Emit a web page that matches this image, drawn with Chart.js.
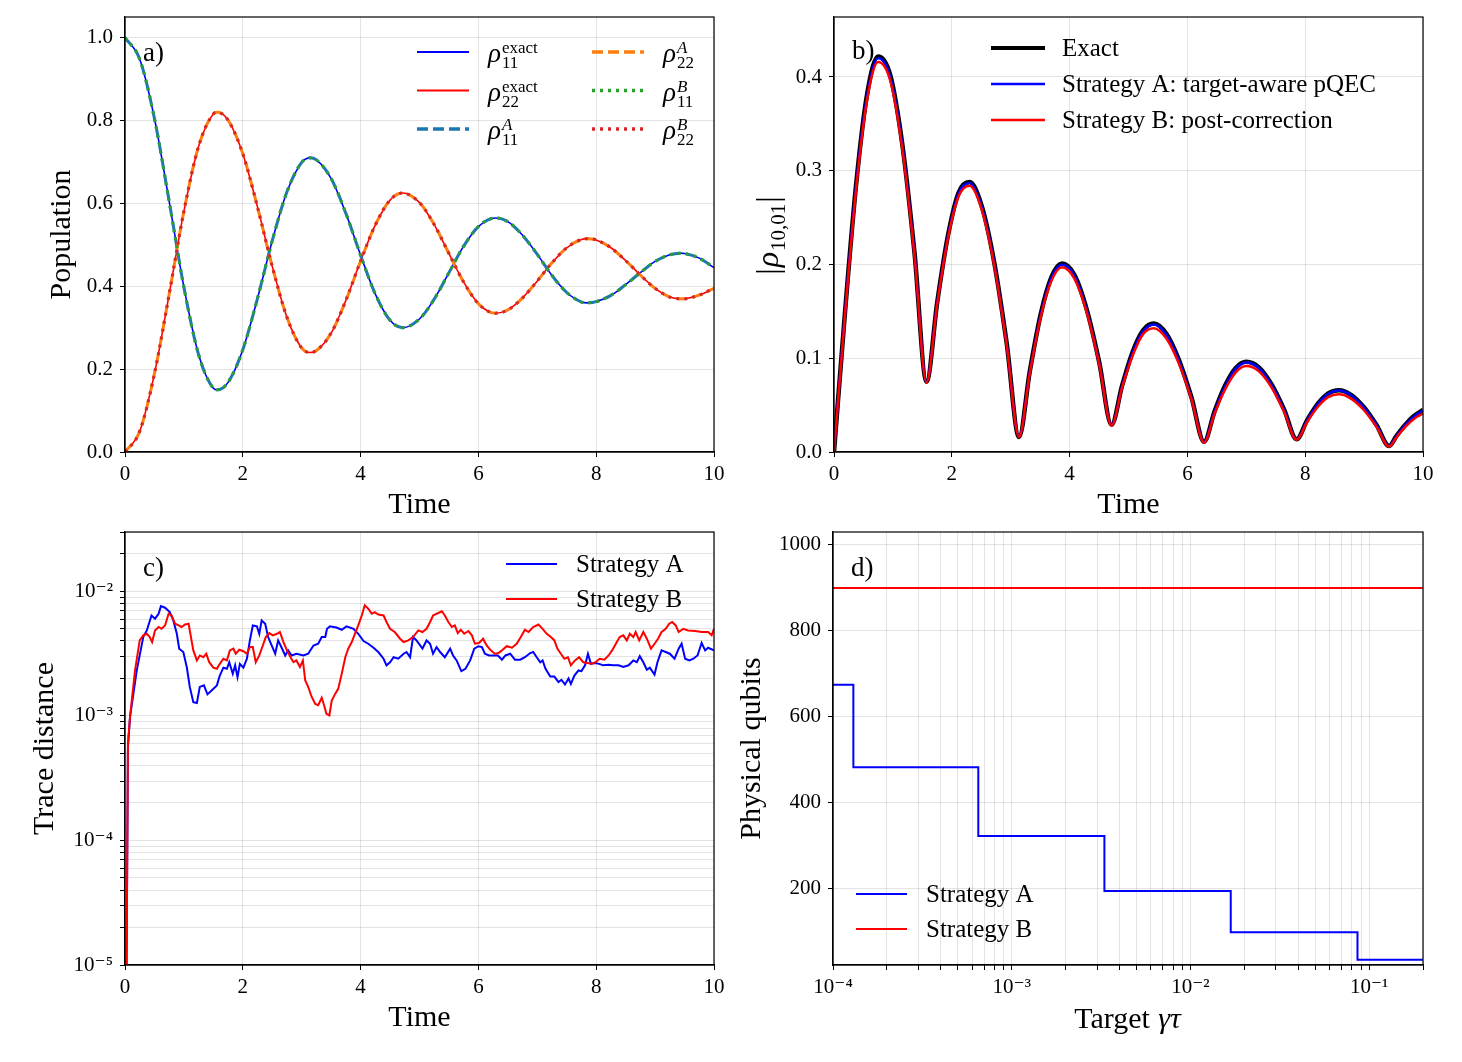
<!DOCTYPE html>
<html>
<head>
<meta charset="utf-8">
<script src="https://cdn.jsdelivr.net/npm/chart.js@4.4.0/dist/chart.umd.min.js"></script>
<style>
  html, body { margin: 0; padding: 0; background: #fff; }
  #wrap { position: relative; width: 1462px; height: 1062px; }
  canvas { position: absolute; }
</style>
</head>
<body>
<div id="wrap">
  <canvas id="panelA" width="730" height="530" style="left:0;top:0"></canvas>
  <canvas id="panelB" width="730" height="530" style="left:730px;top:0"></canvas>
  <canvas id="panelC" width="730" height="532" style="left:0;top:530px"></canvas>
  <canvas id="panelD" width="730" height="532" style="left:730px;top:530px"></canvas>
</div>
<script>
// --- a) populations (read off the figure) ---
const popTime = [0, 0.25, 0.5, 0.75, 1.0, 1.25, 1.5, 1.571, 1.75, 2.0, 2.25, 2.5, 2.75, 3.0, 3.142, 3.25, 3.5, 3.75,
  4.0, 4.25, 4.5, 4.712, 5.0, 5.25, 5.5, 5.75, 6.0, 6.283, 6.5, 6.75, 7.0, 7.25, 7.5, 7.75, 7.854, 8.0, 8.25, 8.5,
  8.75, 9.0, 9.25, 9.425, 9.5, 9.75, 10.0];
const rho11Exact = [1.0, 0.948, 0.805, 0.605, 0.398, 0.235, 0.154, 0.150, 0.168, 0.247, 0.371, 0.510, 0.628, 0.699,
  0.710, 0.705, 0.660, 0.576, 0.475, 0.381, 0.318, 0.300, 0.321, 0.369, 0.433, 0.497, 0.544, 0.565, 0.556, 0.523,
  0.477, 0.426, 0.385, 0.362, 0.360, 0.363, 0.378, 0.404, 0.433, 0.460, 0.476, 0.480, 0.479, 0.468, 0.445];
const rho22Exact = [0.0, 0.050, 0.189, 0.381, 0.581, 0.738, 0.816, 0.820, 0.801, 0.720, 0.591, 0.448, 0.325, 0.251,
  0.240, 0.245, 0.287, 0.366, 0.461, 0.548, 0.608, 0.625, 0.602, 0.549, 0.479, 0.410, 0.358, 0.335, 0.343, 0.372,
  0.413, 0.457, 0.493, 0.513, 0.515, 0.512, 0.493, 0.462, 0.427, 0.395, 0.374, 0.370, 0.370, 0.379, 0.395];
// both strategies sit on top of the exact curves at this scale
const rho11A = rho11Exact, rho22A = rho22Exact, rho11B = rho11Exact, rho22B = rho22Exact;

// --- b) coherence |rho_10,01| ---
const coherTime = [0, 0.188, 0.375, 0.563, 0.75, 0.955, 1.16, 1.366, 1.571, 1.753, 1.935, 2.118, 2.30, 2.51, 2.721,
  2.932, 3.142, 3.324, 3.506, 3.688, 3.87, 4.081, 4.291, 4.502, 4.712, 4.892, 5.071, 5.251, 5.43, 5.643, 5.857, 6.07,
  6.283, 6.462, 6.642, 6.821, 7.0, 7.214, 7.427, 7.641, 7.854, 8.033, 8.212, 8.391, 8.57, 8.784, 8.998, 9.211, 9.425,
  9.55, 9.7, 9.85, 10.0];
const coherExact = [0, 0.150, 0.285, 0.382, 0.422, 0.402, 0.328, 0.213, 0.075, 0.160, 0.231, 0.277, 0.288, 0.262,
  0.202, 0.116, 0.016, 0.086, 0.146, 0.186, 0.201, 0.189, 0.152, 0.096, 0.029, 0.071, 0.107, 0.130, 0.137, 0.126,
  0.098, 0.058, 0.011, 0.0435, 0.0711, 0.0897, 0.0963, 0.0903, 0.0723, 0.0454, 0.0135, 0.034, 0.0513, 0.0626, 0.066,
  0.0608, 0.0477, 0.0287, 0.0064, 0.0172, 0.0291, 0.0386, 0.0448];
const coherA = [0, 0.149, 0.284, 0.380, 0.420, 0.400, 0.327, 0.212, 0.075, 0.159, 0.230, 0.276, 0.287, 0.261,
  0.201, 0.115, 0.016, 0.085, 0.145, 0.185, 0.200, 0.188, 0.151, 0.095, 0.029, 0.070, 0.106, 0.129, 0.136, 0.125,
  0.097, 0.057, 0.011, 0.043, 0.070, 0.089, 0.0955, 0.0895, 0.0717, 0.045, 0.0135, 0.0337, 0.0509, 0.0621, 0.0655,
  0.0603, 0.0473, 0.0285, 0.0064, 0.0170, 0.0288, 0.0382, 0.0444];
const coherB = [0, 0.147, 0.280, 0.376, 0.416, 0.396, 0.323, 0.210, 0.074, 0.158, 0.228, 0.273, 0.284, 0.258,
  0.199, 0.114, 0.016, 0.084, 0.143, 0.182, 0.197, 0.185, 0.149, 0.094, 0.028, 0.069, 0.103, 0.126, 0.132, 0.121,
  0.094, 0.056, 0.010, 0.041, 0.067, 0.085, 0.0917, 0.086, 0.069, 0.043, 0.013, 0.032, 0.048, 0.0585, 0.0615,
  0.0567, 0.0445, 0.0268, 0.0058, 0.0158, 0.0268, 0.0355, 0.041];

// --- c) trace distance, values in units of 1e-3 ---
const traceTimeA = [0, 0.05, 0.085, 0.2, 0.31, 0.37, 0.45, 0.51, 0.57, 0.61, 0.68, 0.76, 0.82, 0.88, 0.92, 0.99,
  1.05, 1.10, 1.16, 1.22, 1.27, 1.34, 1.40, 1.47, 1.56, 1.61, 1.67, 1.73, 1.77, 1.83, 1.87, 1.91, 1.95, 2.01, 2.07,
  2.12, 2.17, 2.24, 2.28, 2.32, 2.38, 2.43, 2.49, 2.55, 2.60, 2.66, 2.72, 2.77, 2.83, 2.91, 3.03, 3.11, 3.20, 3.28,
  3.34, 3.40, 3.43, 3.48, 3.54, 3.59, 3.68, 3.76, 3.88, 3.96, 4.05, 4.13, 4.22, 4.30, 4.39, 4.44, 4.50, 4.56, 4.64,
  4.73, 4.78, 4.84, 4.89, 4.95, 5.05, 5.12, 5.18, 5.23, 5.29, 5.35, 5.43, 5.52, 5.57, 5.63, 5.71, 5.78, 5.86, 5.93,
  6.00, 6.06, 6.11, 6.18, 6.25, 6.33, 6.40, 6.46, 6.54, 6.62, 6.71, 6.79, 6.88, 6.93, 6.99, 7.05, 7.09, 7.14, 7.22,
  7.29, 7.36, 7.41, 7.47, 7.53, 7.57, 7.63, 7.70, 7.75, 7.81, 7.86, 7.91, 7.98, 8.05, 8.12, 8.21, 8.29, 8.38, 8.46,
  8.55, 8.63, 8.69, 8.74, 8.80, 8.86, 8.91, 8.99, 9.04, 9.11, 9.18, 9.25, 9.33, 9.40, 9.45, 9.51, 9.58, 9.65, 9.72,
  9.79, 9.85, 9.90, 10.0];
const traceA = [0.0001, 0.56, 0.98, 2.32, 4.30, 4.86, 6.41, 6.04, 6.62, 7.62, 7.40, 6.82, 5.85, 4.57, 3.47, 3.26,
  2.45, 1.71, 1.29, 1.27, 1.71, 1.76, 1.49, 1.60, 1.76, 2.11, 2.44, 2.39, 2.70, 2.18, 2.55, 2.05, 2.62, 2.44, 2.88,
  4.04, 5.33, 5.24, 4.57, 5.85, 5.50, 4.30, 3.68, 3.16, 4.04, 3.53, 3.06, 3.36, 3.06, 3.16, 3.06, 3.16, 3.68, 3.80,
  4.30, 4.30, 5.01, 5.24, 5.18, 5.13, 4.92, 5.24, 5.01, 4.57, 3.99, 3.80, 3.53, 3.26, 2.88, 2.55, 2.70, 2.96, 2.88,
  3.16, 3.26, 2.96, 4.30, 4.04, 3.47, 4.04, 3.80, 3.16, 3.57, 3.26, 2.96, 3.47, 3.06, 2.79, 2.29, 2.39, 2.79, 3.47,
  3.63, 3.57, 3.16, 3.06, 3.06, 3.06, 2.83, 3.06, 3.16, 2.83, 2.83, 2.96, 3.20, 3.26, 2.96, 2.70, 2.79, 2.39, 2.07,
  2.07, 1.87, 1.95, 1.79, 2.00, 1.81, 2.11, 2.32, 2.29, 2.55, 3.16, 2.62, 2.66, 2.62, 2.55, 2.58, 2.55, 2.55, 2.47,
  2.55, 2.79, 2.70, 3.02, 2.70, 2.35, 2.44, 2.15, 2.70, 3.36, 3.26, 3.16, 2.88, 3.47, 3.80, 2.88, 2.79, 2.88, 3.06,
  3.85, 3.36, 3.53, 3.36];
const traceTimeB = [0, 0.05, 0.085, 0.17, 0.25, 0.31, 0.37, 0.42, 0.46, 0.51, 0.57, 0.62, 0.68, 0.74, 0.79, 0.85,
  0.91, 0.96, 1.02, 1.08, 1.12, 1.16, 1.22, 1.27, 1.33, 1.38, 1.43, 1.50, 1.56, 1.61, 1.67, 1.73, 1.78, 1.84, 1.88,
  1.94, 2.01, 2.07, 2.12, 2.17, 2.22, 2.28, 2.34, 2.39, 2.45, 2.51, 2.58, 2.63, 2.69, 2.75, 2.81, 2.86, 2.91, 2.97,
  3.02, 3.06, 3.11, 3.17, 3.23, 3.28, 3.34, 3.38, 3.42, 3.47, 3.51, 3.57, 3.62, 3.68, 3.74, 3.79, 3.85, 3.90, 3.96,
  4.02, 4.07, 4.13, 4.19, 4.24, 4.30, 4.39, 4.44, 4.50, 4.58, 4.67, 4.73, 4.81, 4.89, 4.98, 5.05, 5.12, 5.18, 5.23,
  5.31, 5.38, 5.43, 5.49, 5.55, 5.60, 5.65, 5.70, 5.76, 5.83, 5.89, 5.94, 6.01, 6.08, 6.14, 6.21, 6.28, 6.34, 6.40,
  6.48, 6.57, 6.65, 6.72, 6.79, 6.85, 6.93, 7.02, 7.09, 7.16, 7.23, 7.29, 7.34, 7.40, 7.46, 7.52, 7.57, 7.64, 7.71,
  7.78, 7.86, 7.92, 7.99, 8.06, 8.14, 8.21, 8.27, 8.35, 8.40, 8.46, 8.52, 8.57, 8.63, 8.67, 8.73, 8.80, 8.86, 8.93,
  9.00, 9.05, 9.11, 9.18, 9.24, 9.29, 9.35, 9.40, 9.48, 9.56, 9.68, 9.79, 9.90, 9.96, 10.0];
const traceB = [0.0001, 0.6, 0.98, 2.32, 4.04, 4.44, 4.57, 4.30, 3.92, 4.86, 5.18, 5.01, 5.33, 6.62, 6.41, 5.50,
  5.33, 5.18, 5.42, 5.50, 4.30, 3.36, 2.79, 3.06, 2.96, 3.16, 2.70, 2.44, 2.39, 2.62, 2.88, 2.79, 3.36, 3.47, 3.16,
  3.40, 3.31, 3.16, 3.57, 3.57, 2.70, 3.06, 3.68, 4.30, 4.63, 4.44, 4.57, 4.72, 3.92, 3.36, 2.96, 2.70, 2.79, 2.47,
  2.79, 1.93, 1.71, 1.42, 1.25, 1.22, 1.40, 1.22, 1.04, 1.01, 1.33, 1.51, 1.65, 2.18, 2.96, 3.47, 3.92, 4.52, 5.33,
  6.41, 7.73, 7.26, 6.62, 6.82, 6.53, 6.41, 5.68, 5.01, 4.72, 4.17, 3.92, 4.04, 4.30, 4.86, 4.72, 5.01, 5.68, 6.41,
  6.68, 6.93, 6.41, 5.68, 5.18, 5.33, 4.63, 4.92, 4.57, 4.81, 4.44, 3.80, 3.85, 4.17, 3.68, 3.36, 3.16, 3.20, 3.36,
  3.63, 3.53, 3.80, 4.30, 4.92, 4.72, 5.18, 5.42, 5.01, 4.57, 4.30, 4.04, 3.47, 3.16, 2.88, 2.96, 2.55, 2.79, 2.96,
  2.70, 2.66, 2.62, 2.70, 2.88, 2.83, 3.06, 3.36, 3.92, 4.30, 4.44, 4.04, 4.57, 4.30, 4.72, 4.04, 4.72, 4.17, 3.47,
  3.85, 4.17, 4.72, 5.01, 5.50, 5.68, 5.33, 4.72, 5.01, 4.86, 4.81, 4.72, 4.72, 4.44, 5.01];

// --- d) physical qubits vs target ---
const targetA = [1e-4, 1.3e-4, 6.5e-4, 3.3e-3, 1.68e-2, 8.6e-2, 0.2];
const qubitsA = [675, 483, 323, 195, 99, 35, 35];
const targetB = [1e-4, 0.2];
const qubitsB = [900, 900];

// --- tick labels ---
const timeTicks = [0, 2, 4, 6, 8, 10];
const popTicks = [0, 0.2, 0.4, 0.6, 0.8, 1.0];
const coherTicks = [0, 0.1, 0.2, 0.3, 0.4];
const qubitTicks = [200, 400, 600, 800, 1000];
const traceDecades = [1e-5, 1e-4, 1e-3, 1e-2];
const targetDecades = [1e-4, 1e-3, 1e-2, 1e-1];

const serif = '"Liberation Serif", "DejaVu Serif", serif';
Chart.defaults.font.family = serif;
Chart.defaults.color = '#000';
const gridColor = 'rgba(0,0,0,0.11)';

// decade ticks plus the 2..9 minors, up to the axis max
function logTicks(decades, max) {
  const out = [];
  decades.forEach(d => {
    for (let m = 1; m <= 9; m++) {
      if (m * d <= max * 1.0001) out.push(m * d);
    }
  });
  return out;
}

const supChars = { '-': '\u207B', '0': '\u2070', '1': '\u00B9', '2': '\u00B2', '3': '\u00B3', '4': '\u2074', '5': '\u2075' };
function powLabel(v) {
  const e = Math.round(Math.log10(v));
  if (Math.abs(v / Math.pow(10, e) - 1) > 1e-6) return '';
  return '10' + String(e).split('').map(c => supChars[c]).join('');
}

function axis(o) {
  const horiz = o.horizontal;
  return {
    type: o.type || 'linear',
    position: horiz ? 'bottom' : 'left',
    min: o.min,
    max: o.max,
    afterBuildTicks: s => { s.ticks = o.ticks.map(v => ({ value: v })); },
    afterFit: s => {
      if (horiz) s.height = o.size; else s.width = o.size;
      // keep the plot area exactly where the layout padding puts it
      s.paddingTop = s.paddingBottom = s.paddingLeft = s.paddingRight = 0;
    },
    grid: { color: gridColor, lineWidth: 1, tickColor: '#000', tickLength: 5, tickWidth: 1 },
    border: { color: '#000', width: 1.2 },
    ticks: {
      font: { size: 21 }, padding: horiz ? 5 : 7, maxRotation: 0, autoSkip: false,
      callback: o.fmt
    },
    title: {
      display: !!o.title, text: o.title, font: { size: 30 },
      padding: horiz ? { top: 0, bottom: o.titlePad } : { top: o.titlePad, bottom: 0 }
    }
  };
}

// draw a run of [text, font, dy] pieces centred on 0 along the current x axis
function drawRun(ctx, parts, baseY) {
  let total = 0;
  parts.forEach(p => { ctx.font = p[1]; p.w = ctx.measureText(p[0]).width + 1; total += p.w; });
  let px = -total / 2;
  parts.forEach(p => { ctx.font = p[1]; ctx.fillText(p[0], px, baseY + (p[2] || 0)); px += p.w; });
}

// frame, panel tag and hand-placed legend (matplotlib style, no box)
const decor = {
  id: 'decor',
  afterDraw(chart, args, o) {
    const ctx = chart.ctx, a = chart.chartArea;
    ctx.save();
    ctx.strokeStyle = '#000';
    ctx.lineWidth = 1.2;
    ctx.strokeRect(a.left, a.top, a.right - a.left, a.bottom - a.top);
    ctx.fillStyle = '#000';
    ctx.textBaseline = 'alphabetic';
    ctx.font = '27px ' + serif;
    ctx.fillText(o.tag, o.tagX, o.tagY);
    o.items.forEach(it => {
      ctx.beginPath();
      ctx.setLineDash(it.dash || []);
      ctx.strokeStyle = it.color;
      ctx.lineWidth = it.width;
      ctx.moveTo(it.x, it.y);
      ctx.lineTo(it.x + o.lineLen, it.y);
      ctx.stroke();
      ctx.setLineDash([]);
      const tx = it.x + o.textGap;
      if (it.rho) {
        ctx.font = 'italic 27px ' + serif;
        ctx.fillText('\u03C1', tx, it.y + 10);
        const w = ctx.measureText('\u03C1').width + 1;
        ctx.font = (it.rho.it ? 'italic ' : '') + '17px ' + serif;
        ctx.fillText(it.rho.sup, tx + w, it.y + 1);
        ctx.font = '17px ' + serif;
        ctx.fillText(it.rho.sub, tx + w, it.y + 16);
      } else {
        ctx.font = '25px ' + serif;
        ctx.fillText(it.text, tx, it.y + 8);
      }
    });
    if (o.rhoTitle) {
      // |rho_{10,01}| written bottom-to-top
      ctx.save();
      ctx.translate(o.rhoTitle.x, o.rhoTitle.y);
      ctx.rotate(-Math.PI / 2);
      drawRun(ctx, [['|', '32px ' + serif], ['\u03C1', 'italic 32px ' + serif], ['10,01', '21px ' + serif, 7], ['|', '32px ' + serif]], 10);
      ctx.restore();
    }
    if (o.xTitle) {
      ctx.save();
      ctx.translate(o.xTitle.x, o.xTitle.y);
      drawRun(ctx, [['Target ', '30px ' + serif], ['\u03B3\u03C4', 'italic 30px ' + serif]], 0);
      ctx.restore();
    }
    ctx.restore();
  }
};

function series(xs, ys, style) {
  return Object.assign({
    data: xs.map((x, i) => ({ x: x, y: ys[i] })),
    pointRadius: 0, fill: false, borderCapStyle: 'butt'
  }, style);
}

function makeChart(id, datasets, scales, deco, pad) {
  return new Chart(document.getElementById(id), {
    type: 'line',
    data: { datasets: datasets },
    options: {
      responsive: false, animation: false, events: [],
      layout: { padding: pad },
      plugins: { legend: { display: false }, tooltip: { enabled: false }, decor: deco },
      scales: scales
    },
    plugins: [decor]
  });
}

const fmt1 = v => v.toFixed(1);
const fmtInt = v => String(v);
const smooth = { cubicInterpolationMode: 'monotone' };

// a)
makeChart('panelA', [
  series(popTime, rho11Exact, Object.assign({ borderColor: '#0000ff', borderWidth: 1.6, order: 6 }, smooth)),
  series(popTime, rho22Exact, Object.assign({ borderColor: '#ff0000', borderWidth: 1.6, order: 5 }, smooth)),
  series(popTime, rho11A, Object.assign({ borderColor: '#1f77b4', borderWidth: 3, borderDash: [11, 5], order: 4 }, smooth)),
  series(popTime, rho22A, Object.assign({ borderColor: '#ff7f0e', borderWidth: 3, borderDash: [11, 5], order: 3 }, smooth)),
  series(popTime, rho11B, Object.assign({ borderColor: '#2ca02c', borderWidth: 3, borderDash: [3, 5], order: 2 }, smooth)),
  series(popTime, rho22B, Object.assign({ borderColor: '#d62728', borderWidth: 3, borderDash: [3, 5], order: 1 }, smooth))
], {
  x: axis({ horizontal: true, min: 0, max: 10, ticks: timeTicks, fmt: fmtInt, title: 'Time', size: 78, titlePad: 7 }),
  y: axis({ min: 0, max: 1.05, ticks: popTicks, fmt: fmt1, title: 'Population', size: 125, titlePad: 44 })
}, {
  tag: 'a)', tagX: 143, tagY: 61, lineLen: 52, textGap: 71,
  items: [
    { x: 417, y: 52, color: '#0000ff', width: 2, rho: { sup: 'exact', sub: '11' } },
    { x: 417, y: 90.5, color: '#ff0000', width: 2, rho: { sup: 'exact', sub: '22' } },
    { x: 417, y: 129, color: '#1f77b4', width: 3.5, dash: [11, 5], rho: { sup: 'A', sub: '11', it: true } },
    { x: 592, y: 52, color: '#ff7f0e', width: 3.5, dash: [11, 5], rho: { sup: 'A', sub: '22', it: true } },
    { x: 592, y: 90.5, color: '#2ca02c', width: 3.5, dash: [3, 5], rho: { sup: 'B', sub: '11', it: true } },
    { x: 592, y: 129, color: '#d62728', width: 3.5, dash: [3, 5], rho: { sup: 'B', sub: '22', it: true } }
  ]
}, { top: 17, right: 16, left: 0, bottom: 0 });

// b)
makeChart('panelB', [
  series(coherTime, coherExact, Object.assign({ borderColor: '#000000', borderWidth: 4.5, order: 3 }, smooth)),
  series(coherTime, coherA, Object.assign({ borderColor: '#0000ff', borderWidth: 2.5, order: 2 }, smooth)),
  series(coherTime, coherB, Object.assign({ borderColor: '#ff0000', borderWidth: 2.5, order: 1 }, smooth))
], {
  x: axis({ horizontal: true, min: 0, max: 10, ticks: timeTicks, fmt: fmtInt, title: 'Time', size: 78, titlePad: 7 }),
  y: axis({ min: 0, max: 0.464, ticks: coherTicks, fmt: fmt1, title: '', size: 104, titlePad: 24 })
}, {
  tag: 'b)', tagX: 122, tagY: 59, lineLen: 54, textGap: 71,
  rhoTitle: { x: 38, y: 235 },
  items: [
    { x: 261, y: 48, color: '#000000', width: 4, text: 'Exact' },
    { x: 261, y: 84, color: '#0000ff', width: 2.5, text: 'Strategy A: target-aware pQEC' },
    { x: 261, y: 120, color: '#ff0000', width: 2.5, text: 'Strategy B: post-correction' }
  ]
}, { top: 17, right: 37, left: 0, bottom: 0 });

// c)
makeChart('panelC', [
  series(traceTimeA, traceA.map(v => v * 1e-3), { borderColor: '#0000ff', borderWidth: 2, order: 2 }),
  series(traceTimeB, traceB.map(v => v * 1e-3), { borderColor: '#ff0000', borderWidth: 2, order: 1 })
], {
  x: axis({ horizontal: true, min: 0, max: 10, ticks: timeTicks, fmt: fmtInt, title: 'Time', size: 97, titlePad: 26 }),
  y: axis({ type: 'logarithmic', min: 1e-5, max: 0.03, ticks: logTicks(traceDecades, 0.03), fmt: powLabel,
    title: 'Trace distance', size: 125, titlePad: 27 })
}, {
  tag: 'c)', tagX: 143, tagY: 46, lineLen: 51, textGap: 70,
  items: [
    { x: 506, y: 34, color: '#0000ff', width: 2.2, text: 'Strategy A' },
    { x: 506, y: 69, color: '#ff0000', width: 2.2, text: 'Strategy B' }
  ]
}, { top: 2, right: 16, left: 0, bottom: 0 });

// d)
makeChart('panelD', [
  series(targetA, qubitsA, { borderColor: '#0000ff', borderWidth: 2, stepped: 'before', order: 2 }),
  series(targetB, qubitsB, { borderColor: '#ff0000', borderWidth: 2, order: 1 })
], {
  x: axis({ horizontal: true, type: 'logarithmic', min: 1e-4, max: 0.2, ticks: logTicks(targetDecades, 0.2), fmt: powLabel,
    title: '', size: 97, titlePad: 26 }),
  y: axis({ min: 23, max: 1030, ticks: qubitTicks, fmt: fmtInt, title: 'Physical qubits', size: 103, titlePad: 4 })
}, {
  tag: 'd)', tagX: 121, tagY: 46, lineLen: 51, textGap: 70,
  xTitle: { x: 398, y: 498 },
  items: [
    { x: 126, y: 364, color: '#0000ff', width: 2.2, text: 'Strategy A' },
    { x: 126, y: 399, color: '#ff0000', width: 2.2, text: 'Strategy B' }
  ]
}, { top: 2, right: 37, left: 0, bottom: 0 });
</script>
</body>
</html>
